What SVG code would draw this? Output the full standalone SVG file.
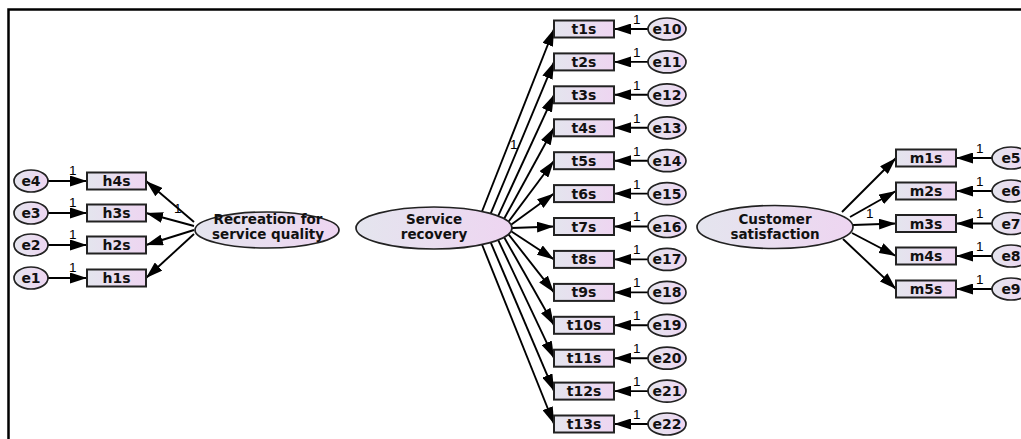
<svg xmlns="http://www.w3.org/2000/svg" width="1021" height="439" viewBox="0 0 1021 439">
<defs>
<linearGradient id="g" x1="0" y1="0" x2="1" y2="0">
<stop offset="0" stop-color="#e4e5ee"/>
<stop offset="1" stop-color="#eed5f1"/>
</linearGradient>
<marker id="ah" markerUnits="userSpaceOnUse" markerWidth="17" markerHeight="11" refX="17" refY="5.5" orient="auto">
<path d="M0,0 L17,5.5 L0,11 z" fill="#000"/>
</marker>
</defs>
<style>
.box{fill:url(#g);stroke:#222;stroke-width:2}
.lat{fill:url(#g);stroke:#222;stroke-width:1.7}
.err{fill:url(#g);stroke:#222;stroke-width:1.7}
.t{font-family:"DejaVu Sans",Verdana,sans-serif;font-weight:bold;font-size:14px;fill:#111;text-anchor:middle}
.l{font-family:"DejaVu Sans",Verdana,sans-serif;font-weight:bold;font-size:13.5px;fill:#111;text-anchor:middle}
.one{font-family:"Liberation Sans",Arial,sans-serif;font-size:13.5px;fill:#000}
#connectors line{stroke:#000;stroke-width:1.9;marker-end:url(#ah)}
</style>
<rect x="8.5" y="9.5" width="1030" height="450" fill="none" stroke="#000" stroke-width="2.5"/>

<g id="connectors">
<line x1="48" y1="181" x2="87" y2="181"/>
<line x1="48" y1="213" x2="87" y2="213"/>
<line x1="48" y1="245" x2="87" y2="245"/>
<line x1="48" y1="278" x2="87" y2="278"/>
<line x1="194" y1="222" x2="146" y2="181"/>
<line x1="194" y1="226" x2="146" y2="213"/>
<line x1="194" y1="230" x2="146" y2="245"/>
<line x1="194" y1="234" x2="146" y2="278"/>
<line x1="482" y1="211.5" x2="554" y2="29"/>
<line x1="490.7" y1="213.6" x2="554" y2="61.9"/>
<line x1="498.1" y1="216.1" x2="554" y2="94.8"/>
<line x1="504.1" y1="218.8" x2="554" y2="127.8"/>
<line x1="508.5" y1="221.7" x2="554" y2="160.7"/>
<line x1="511.1" y1="224.8" x2="554" y2="193.6"/>
<line x1="512" y1="228" x2="554" y2="226.5"/>
<line x1="511.1" y1="231.2" x2="554" y2="259.4"/>
<line x1="508.5" y1="234.3" x2="554" y2="292.4"/>
<line x1="504.1" y1="237.2" x2="554" y2="325.3"/>
<line x1="498.1" y1="239.9" x2="554" y2="358.2"/>
<line x1="490.7" y1="242.4" x2="554" y2="391.1"/>
<line x1="482" y1="244.5" x2="554" y2="424"/>
<line x1="648" y1="29" x2="614" y2="29"/>
<line x1="648" y1="61.9" x2="614" y2="61.9"/>
<line x1="648" y1="94.8" x2="614" y2="94.8"/>
<line x1="648" y1="127.8" x2="614" y2="127.8"/>
<line x1="648" y1="160.7" x2="614" y2="160.7"/>
<line x1="648" y1="193.6" x2="614" y2="193.6"/>
<line x1="648" y1="226.5" x2="614" y2="226.5"/>
<line x1="648" y1="259.4" x2="614" y2="259.4"/>
<line x1="648" y1="292.4" x2="614" y2="292.4"/>
<line x1="648" y1="325.3" x2="614" y2="325.3"/>
<line x1="648" y1="358.2" x2="614" y2="358.2"/>
<line x1="648" y1="391.1" x2="614" y2="391.1"/>
<line x1="648" y1="424" x2="614" y2="424"/>
<line x1="842" y1="212" x2="896" y2="158"/>
<line x1="850" y1="217" x2="896" y2="191"/>
<line x1="853" y1="225" x2="896" y2="223.5"/>
<line x1="852" y1="233" x2="896" y2="256"/>
<line x1="843" y1="239" x2="896" y2="289"/>
<line x1="992" y1="158" x2="956" y2="158"/>
<line x1="992" y1="191" x2="956" y2="191"/>
<line x1="992" y1="223.5" x2="956" y2="223.5"/>
<line x1="992" y1="256" x2="956" y2="256"/>
<line x1="992" y1="289" x2="956" y2="289"/>
</g>

<g id="weights">
<text class="one" x="69" y="175">1</text>
<text class="one" x="69" y="207">1</text>
<text class="one" x="69" y="239">1</text>
<text class="one" x="69" y="272">1</text>
<text class="one" x="174" y="213">1</text>
<text class="one" x="510" y="149">1</text>
<text class="one" x="633" y="24">1</text>
<text class="one" x="633" y="57">1</text>
<text class="one" x="633" y="90">1</text>
<text class="one" x="633" y="123">1</text>
<text class="one" x="633" y="156">1</text>
<text class="one" x="633" y="189">1</text>
<text class="one" x="633" y="221">1</text>
<text class="one" x="633" y="254">1</text>
<text class="one" x="633" y="287">1</text>
<text class="one" x="633" y="320">1</text>
<text class="one" x="633" y="353">1</text>
<text class="one" x="633" y="386">1</text>
<text class="one" x="633" y="419">1</text>
<text class="one" x="866" y="218">1</text>
<text class="one" x="976" y="153">1</text>
<text class="one" x="976" y="186">1</text>
<text class="one" x="976" y="218">1</text>
<text class="one" x="976" y="251">1</text>
<text class="one" x="976" y="284">1</text>
</g>

<g id="e4"><ellipse class="err" cx="31" cy="181" rx="17" ry="11"/><text class="t" x="31" y="186">e4</text></g>
<g id="e3"><ellipse class="err" cx="31" cy="213" rx="17" ry="11"/><text class="t" x="31" y="218">e3</text></g>
<g id="e2"><ellipse class="err" cx="31" cy="245" rx="17" ry="11"/><text class="t" x="31" y="250">e2</text></g>
<g id="e1"><ellipse class="err" cx="31" cy="278" rx="17" ry="11"/><text class="t" x="31" y="283">e1</text></g>

<g id="h4s"><rect class="box" x="87" y="172.5" width="59" height="17"/><text class="t" x="116.5" y="186">h4s</text></g>
<g id="h3s"><rect class="box" x="87" y="204.5" width="59" height="17"/><text class="t" x="116.5" y="218">h3s</text></g>
<g id="h2s"><rect class="box" x="87" y="236.5" width="59" height="17"/><text class="t" x="116.5" y="250">h2s</text></g>
<g id="h1s"><rect class="box" x="87" y="269.5" width="59" height="17"/><text class="t" x="116.5" y="283">h1s</text></g>

<g id="recreation"><ellipse class="lat" cx="267" cy="230" rx="72" ry="18"/><text class="l" x="268" y="224">Recreation for</text><text class="l" x="268" y="238.5">service quality</text></g>

<g id="service-recovery"><ellipse class="lat" cx="434" cy="228" rx="78" ry="21"/><text class="l" x="434" y="224">Service</text><text class="l" x="434" y="238.5">recovery</text></g>

<g id="customer-satisfaction"><ellipse class="lat" cx="775" cy="227" rx="78" ry="21.5"/><text class="l" x="775" y="223.5">Customer</text><text class="l" x="775" y="238.5">satisfaction</text></g>

<g id="t1s"><rect class="box" x="554" y="20.5" width="60" height="17"/><text class="t" x="584" y="34">t1s</text></g>
<g id="t2s"><rect class="box" x="554" y="53.4" width="60" height="17"/><text class="t" x="584" y="66.9">t2s</text></g>
<g id="t3s"><rect class="box" x="554" y="86.3" width="60" height="17"/><text class="t" x="584" y="99.8">t3s</text></g>
<g id="t4s"><rect class="box" x="554" y="119.3" width="60" height="17"/><text class="t" x="584" y="132.8">t4s</text></g>
<g id="t5s"><rect class="box" x="554" y="152.2" width="60" height="17"/><text class="t" x="584" y="165.7">t5s</text></g>
<g id="t6s"><rect class="box" x="554" y="185.1" width="60" height="17"/><text class="t" x="584" y="198.6">t6s</text></g>
<g id="t7s"><rect class="box" x="554" y="218" width="60" height="17"/><text class="t" x="584" y="231.5">t7s</text></g>
<g id="t8s"><rect class="box" x="554" y="250.9" width="60" height="17"/><text class="t" x="584" y="264.4">t8s</text></g>
<g id="t9s"><rect class="box" x="554" y="283.9" width="60" height="17"/><text class="t" x="584" y="297.4">t9s</text></g>
<g id="t10s"><rect class="box" x="554" y="316.8" width="60" height="17"/><text class="t" x="584" y="330.3">t10s</text></g>
<g id="t11s"><rect class="box" x="554" y="349.7" width="60" height="17"/><text class="t" x="584" y="363.2">t11s</text></g>
<g id="t12s"><rect class="box" x="554" y="382.6" width="60" height="17"/><text class="t" x="584" y="396.1">t12s</text></g>
<g id="t13s"><rect class="box" x="554" y="415.5" width="60" height="17"/><text class="t" x="584" y="429">t13s</text></g>

<g id="e10"><ellipse class="err" cx="667" cy="29" rx="19" ry="11"/><text class="t" x="667" y="34">e10</text></g>
<g id="e11"><ellipse class="err" cx="667" cy="61.9" rx="19" ry="11"/><text class="t" x="667" y="66.9">e11</text></g>
<g id="e12"><ellipse class="err" cx="667" cy="94.8" rx="19" ry="11"/><text class="t" x="667" y="99.8">e12</text></g>
<g id="e13"><ellipse class="err" cx="667" cy="127.8" rx="19" ry="11"/><text class="t" x="667" y="132.8">e13</text></g>
<g id="e14"><ellipse class="err" cx="667" cy="160.7" rx="19" ry="11"/><text class="t" x="667" y="165.7">e14</text></g>
<g id="e15"><ellipse class="err" cx="667" cy="193.6" rx="19" ry="11"/><text class="t" x="667" y="198.6">e15</text></g>
<g id="e16"><ellipse class="err" cx="667" cy="226.5" rx="19" ry="11"/><text class="t" x="667" y="231.5">e16</text></g>
<g id="e17"><ellipse class="err" cx="667" cy="259.4" rx="19" ry="11"/><text class="t" x="667" y="264.4">e17</text></g>
<g id="e18"><ellipse class="err" cx="667" cy="292.4" rx="19" ry="11"/><text class="t" x="667" y="297.4">e18</text></g>
<g id="e19"><ellipse class="err" cx="667" cy="325.3" rx="19" ry="11"/><text class="t" x="667" y="330.3">e19</text></g>
<g id="e20"><ellipse class="err" cx="667" cy="358.2" rx="19" ry="11"/><text class="t" x="667" y="363.2">e20</text></g>
<g id="e21"><ellipse class="err" cx="667" cy="391.1" rx="19" ry="11"/><text class="t" x="667" y="396.1">e21</text></g>
<g id="e22"><ellipse class="err" cx="667" cy="424" rx="19" ry="11"/><text class="t" x="667" y="429">e22</text></g>

<g id="m1s"><rect class="box" x="896" y="149.5" width="60" height="17"/><text class="t" x="926" y="163">m1s</text></g>
<g id="m2s"><rect class="box" x="896" y="182.5" width="60" height="17"/><text class="t" x="926" y="196">m2s</text></g>
<g id="m3s"><rect class="box" x="896" y="215" width="60" height="17"/><text class="t" x="926" y="228.5">m3s</text></g>
<g id="m4s"><rect class="box" x="896" y="247.5" width="60" height="17"/><text class="t" x="926" y="261">m4s</text></g>
<g id="m5s"><rect class="box" x="896" y="280.5" width="60" height="17"/><text class="t" x="926" y="294">m5s</text></g>

<g id="e5"><ellipse class="err" cx="1011" cy="158" rx="19" ry="11"/><text class="t" x="1011" y="163">e5</text></g>
<g id="e6"><ellipse class="err" cx="1011" cy="191" rx="19" ry="11"/><text class="t" x="1011" y="196">e6</text></g>
<g id="e7"><ellipse class="err" cx="1011" cy="223.5" rx="19" ry="11"/><text class="t" x="1011" y="228.5">e7</text></g>
<g id="e8"><ellipse class="err" cx="1011" cy="256" rx="19" ry="11"/><text class="t" x="1011" y="261">e8</text></g>
<g id="e9"><ellipse class="err" cx="1011" cy="289" rx="19" ry="11"/><text class="t" x="1011" y="294">e9</text></g>
</svg>
